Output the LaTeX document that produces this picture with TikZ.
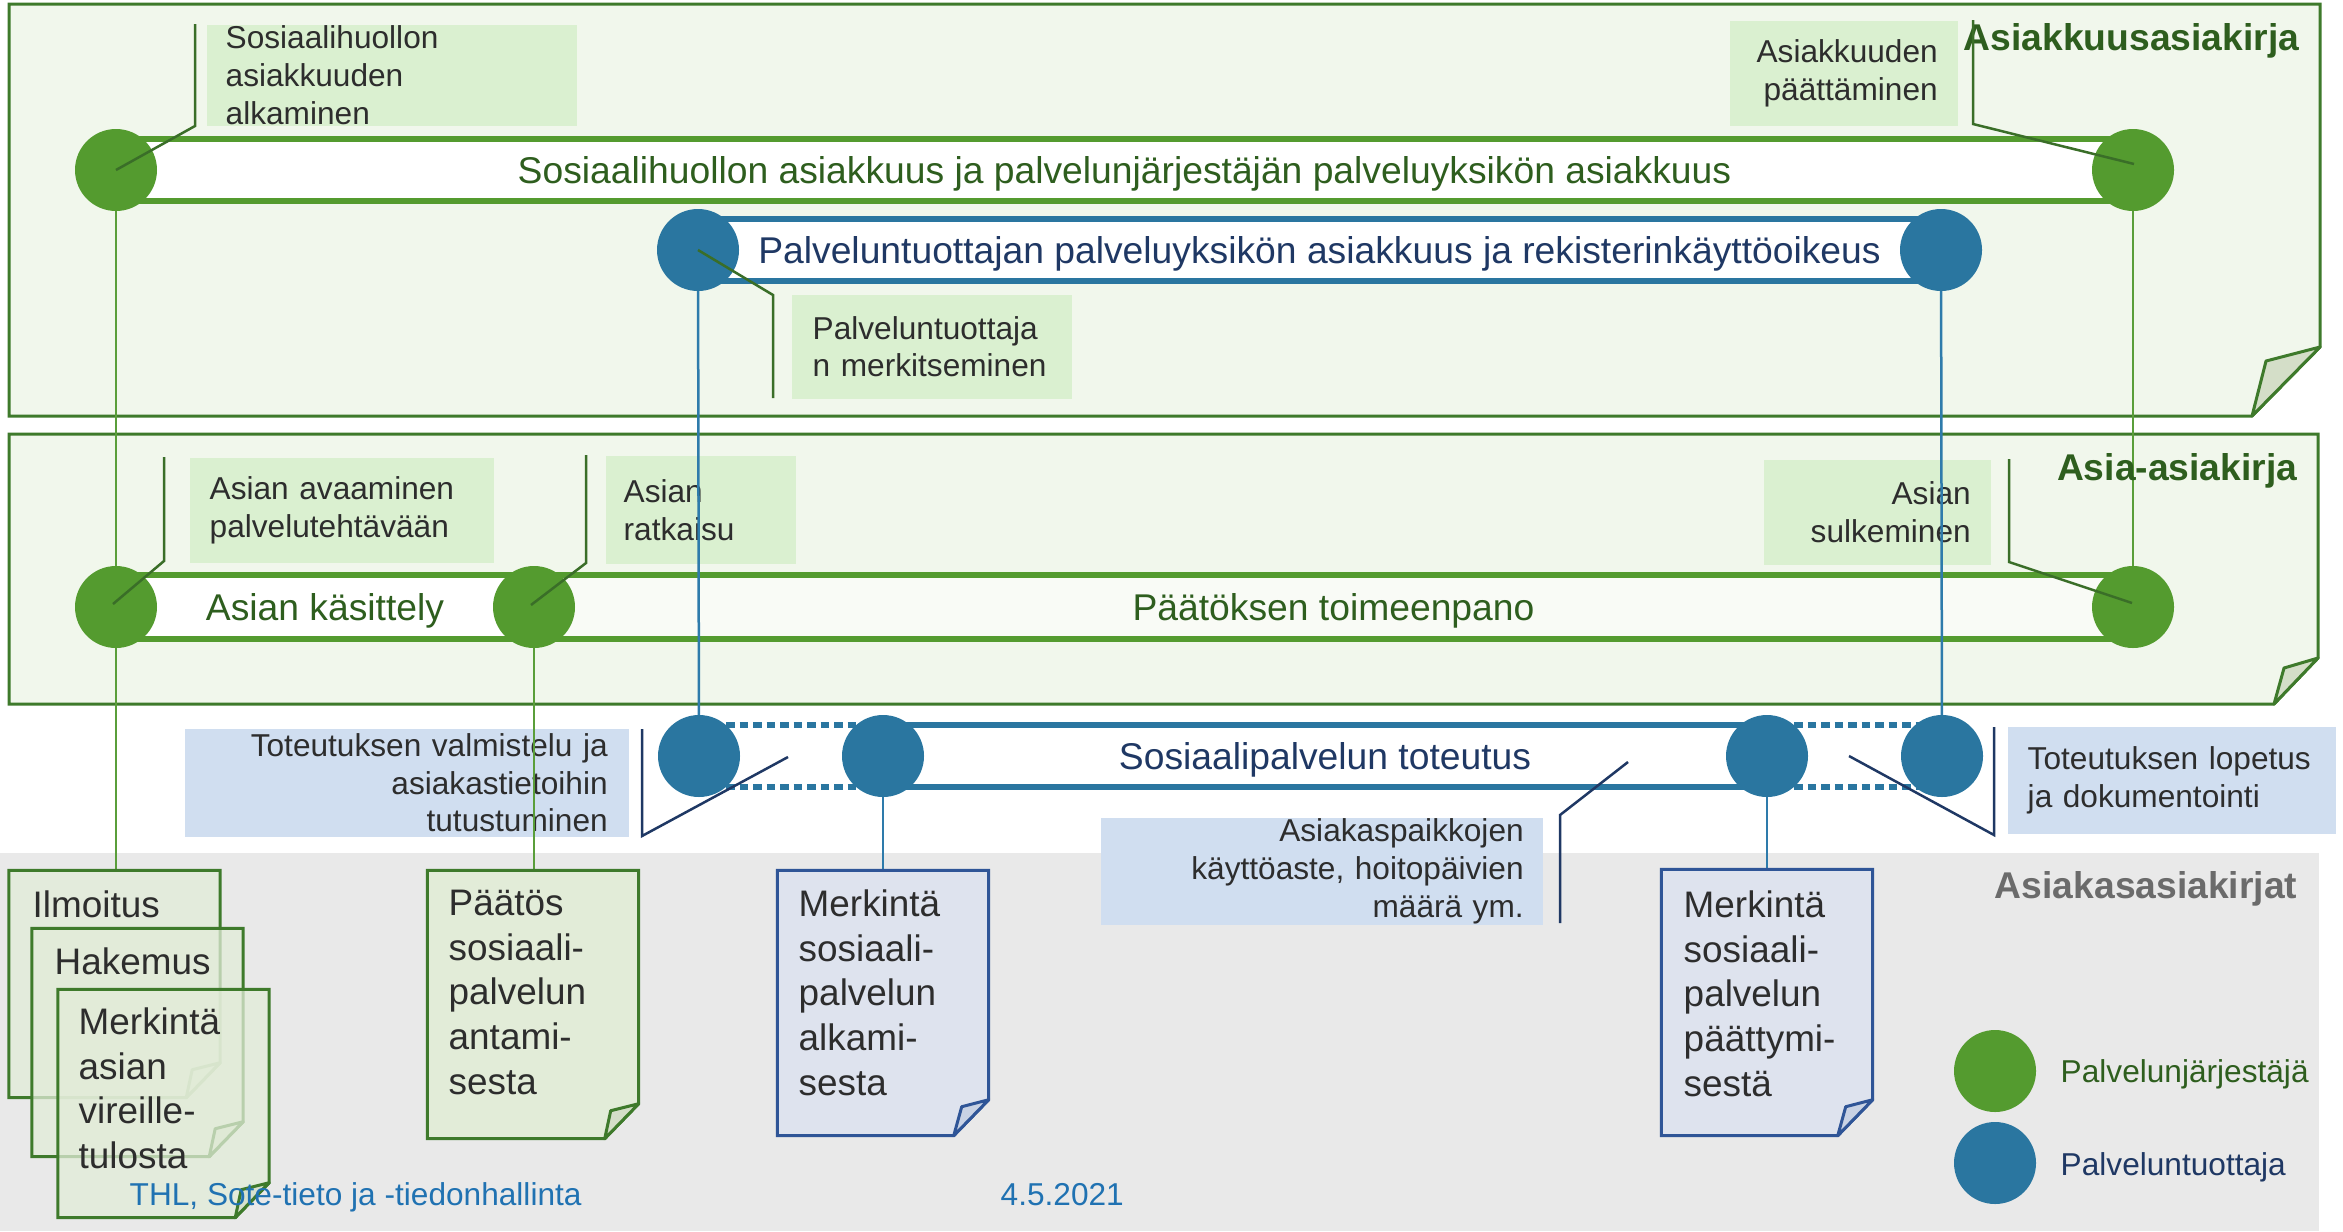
\documentclass[tikz,border=0pt]{standalone}
\usepackage{fontspec}
\setmainfont{Liberation Sans}
\usetikzlibrary{calc}
\pgfdeclarelayer{back}
\pgfdeclarelayer{bars}
\pgfdeclarelayer{vlines}
\pgfdeclarelayer{front}
\pgfsetlayers{back,bars,vlines,main,front}
\definecolor{gcirc}{RGB}{84,155,47}
\definecolor{bcirc}{RGB}{42,118,160}
\definecolor{frameg}{RGB}{62,122,43}
\definecolor{framefill}{RGB}{241,247,236}
\definecolor{flapfill}{RGB}{212,222,200}
\definecolor{colcalg}{RGB}{218,240,208}
\definecolor{colcalb}{RGB}{208,222,240}
\definecolor{dgtext}{RGB}{46,94,30}
\definecolor{navy}{RGB}{31,56,100}
\definecolor{ctext}{RGB}{45,45,45}
\definecolor{grayband}{RGB}{233,233,233}
\definecolor{coldocg}{RGB}{226,236,216}
\definecolor{coldocb}{RGB}{222,227,238}
\definecolor{docbline}{RGB}{47,85,151}
\definecolor{docbflap}{RGB}{200,210,228}
\definecolor{pointg}{RGB}{58,110,40}
\definecolor{vlineg}{RGB}{90,158,58}
\definecolor{vlineb}{RGB}{46,123,171}
\definecolor{foot}{RGB}{32,114,178}
\definecolor{titlegray}{RGB}{107,107,107}
\definecolor{offwhite}{RGB}{249,251,246}
\begin{document}
\begin{tikzpicture}[x=0.1mm,y=-0.1mm,
  gdot/.style={circle,fill=gcirc,minimum size=8.2mm,inner sep=0pt},
  bdot/.style={circle,fill=bcirc,minimum size=8.2mm,inner sep=0pt},
  frame/.style={draw=frameg,line width=0.3mm,fill=framefill},
  flap/.style={draw=frameg,line width=0.3mm,fill=flapfill,line join=round},
  barg/.style={draw=gcirc,line width=0.6mm,fill=white},
  barb/.style={draw=bcirc,line width=0.6mm,fill=white},
  dotb/.style={draw=bcirc,line width=0.6mm,dash pattern=on 0.85mm off 0.5mm},
  bartxtg/.style={font=\fontsize{10.6pt}{12.6pt}\selectfont,text=dgtext,inner sep=0pt,anchor=base},
  bartxtb/.style={font=\fontsize{10.6pt}{12.6pt}\selectfont,text=navy,inner sep=0pt,anchor=base},
  calg/.style={fill=colcalg,text=ctext,font=\fontsize{9pt}{10.8pt}\selectfont,inner ysep=0pt,anchor=north west},
  calb/.style={fill=colcalb,text=ctext,font=\fontsize{9pt}{10.8pt}\selectfont,inner ysep=0pt,anchor=north west},
  ptg/.style={draw=pointg,line width=0.25mm},
  ptb/.style={draw=navy,line width=0.25mm},
  vg/.style={draw=vlineg,line width=0.25mm},
  vb/.style={draw=vlineb,line width=0.25mm},
  docgs/.style={draw=frameg,line width=0.3mm,fill=coldocg,fill opacity=0.75},
  docbs/.style={draw=docbline,line width=0.3mm,fill=coldocb},
  flapg/.style={draw=frameg,line width=0.3mm,fill=flapfill,line join=round},
  flapb/.style={draw=docbline,line width=0.3mm,fill=docbflap,line join=round},
  docbox/.style={inner sep=0pt,minimum width=21mm},
  doctxt/.style={font=\fontsize{10.5pt}{12.8pt}\selectfont,text=ctext,text width=19mm,align=left,inner sep=0pt,anchor=base west},
  titlestyle/.style={font=\fontsize{10.6pt}{12pt}\selectfont\bfseries,inner sep=0pt,anchor=base east},
  legstyle/.style={font=\fontsize{9pt}{11pt}\selectfont,inner sep=0pt,anchor=base west}]
\useasboundingbox (0,0) rectangle (2343,1231);

% ---------- background ----------
\begin{pgfonlayer}{back}
\fill[grayband] (0,853) rectangle (2319,1231);
\path[frame] (9,4) -- (2320,4) -- (2320,347) -- (2252,416) -- (9,416) -- cycle;
\path[flap] (2320,347) -- (2266,361) -- (2252,416) -- cycle;
\path[frame] (9,434) -- (2318,434) -- (2318,658) -- (2274,704) -- (9,704) -- cycle;
\path[flap] (2318,658) -- (2284,668) -- (2274,704) -- cycle;
% callouts
\node[calg,text width=33.2mm,inner xsep=1.9mm,minimum height=10.1mm,align=left] (c1) at (206,24) {Sosiaalihuollon\\asiakkuuden\\alkaminen};
\node[calg,text width=18.8mm,inner xsep=2mm,minimum height=10.5mm,align=right] (c2) at (1729,20) {Asiakkuuden\\päättäminen};
\node[calg,text width=23.8mm,inner xsep=2.1mm,minimum height=10.4mm,align=left] (c3) at (791,294) {Palveluntuottaja\\n~merkitseminen};
\node[calg,text width=26.4mm,inner xsep=2mm,minimum height=10.5mm,align=left] (c4) at (189,457) {Asian~avaaminen\\palvelutehtävään};
\node[calg,text width=15.4mm,inner xsep=1.8mm,minimum height=10.8mm,align=left] (c5) at (605,455) {Asian\\ratkaisu};
\node[calg,text width=18.7mm,inner xsep=2mm,minimum height=10.5mm,align=right] (c6) at (1763,459) {Asian\\sulkeminen};
\node[calb,text width=40.2mm,inner xsep=2.1mm,minimum height=10.8mm,align=right] (c7) at (184,728) {Toteutuksen~valmistelu~ja\\asiakastietoihin\\tutustuminen};
\node[calb,text width=40.4mm,inner xsep=1.9mm,minimum height=10.7mm,align=right] (c8) at (1100,817) {Asiakaspaikkojen\\käyttöaste,~hoitopäivien\\määrä~ym.};
\node[calb,text width=28.8mm,inner xsep=2mm,minimum height=10.7mm,align=left] (c9) at (2007,726) {Toteutuksen~lopetus\\ja~dokumentointi};
\end{pgfonlayer}

% ---------- circles ----------
\node[gdot] (gA1) at (116,170) {};
\node[gdot] (gA2) at (2133,170) {};
\node[bdot] (bB1) at (698,250) {};
\node[bdot] (bB2) at (1941,250) {};
\node[gdot] (gC1) at (116,607) {};
\node[gdot] (gC2) at (534,607) {};
\node[gdot] (gC3) at (2133,607) {};
\node[bdot] (bT1) at (699,756) {};
\node[bdot] (bT2) at (883,756) {};
\node[bdot] (bT3) at (1767,756) {};
\node[bdot] (bT4) at (1942,756) {};

% ---------- bars ----------
\begin{pgfonlayer}{bars}
\path[barg] ($(gA1)+(0,-31)$) rectangle ($(gA2)+(0,31)$);
\node[bartxtg] (tA) at ($(gA1)!0.5!(gA2)+(0,13)$) {Sosiaalihuollon asiakkuus ja palvelunjärjestäjän palveluyksikön asiakkuus};
\path[barb] ($(bB1)+(0,-31)$) rectangle ($(bB2)+(0,31)$);
\node[bartxtb] (tB) at ($(bB1)!0.5!(bB2)+(0,13)$) {Palveluntuottajan palveluyksikön asiakkuus ja rekisterinkäyttöoikeus};
\path[barg] ($(gC1)+(0,-32)$) rectangle ($(gC2)+(0,32)$);
\node[bartxtg] (tC1) at ($(gC1)!0.5!(gC2)+(0,13)$) {Asian käsittely};
\path[barg,fill=offwhite] ($(gC2)+(0,-32)$) rectangle ($(gC3)+(0,32)$);
\node[bartxtg] (tC2) at ($(gC2)!0.5!(gC3)+(0,13)$) {Päätöksen toimeenpano};
\path[barb] ($(bT2)+(0,-31)$) rectangle ($(bT3)+(0,31)$);
\node[bartxtb] (tT) at ($(bT2)!0.5!(bT3)+(0,13)$) {Sosiaalipalvelun toteutus};
\draw[dotb] ($(bT1)+(0,-31)$) -- ($(bT2)+(0,-31)$);
\draw[dotb] ($(bT1)+(0,31)$) -- ($(bT2)+(0,31)$);
\draw[dotb] ($(bT3)+(0,-31)$) -- ($(bT4)+(0,-31)$);
\draw[dotb] ($(bT3)+(0,31)$) -- ($(bT4)+(0,31)$);
\end{pgfonlayer}

% ---------- documents ----------
\node[docbox,minimum height=22.6mm] (d1) at (114.5,984) {};
\node[docbox,minimum height=22.7mm] (d2) at (137.5,1042.5) {};
\node[docbox,minimum height=22.7mm] (d3) at (163.5,1103.5) {};
\node[docbox,minimum height=26.7mm] (d4) at (533,1004.5) {};
\node[docbox,minimum height=26.4mm] (d5) at (883,1003) {};
\node[docbox,minimum height=26.5mm] (d6) at (1767,1002.5) {};

\foreach \d in {d1,d2,d3}{
  \path[docgs] (\d.north west) -- (\d.north east) -- ($(\d.south east)+(0,-35)$) -- ($(\d.south east)+(-34,0)$) -- (\d.south west) -- cycle;
  \path[flapg,fill opacity=0.75] ($(\d.south east)+(0,-35)$) -- ($(\d.south east)+(-28,-28)$) -- ($(\d.south east)+(-34,0)$) -- cycle;
}
\node[doctxt] (d1t) at (32,917) {Ilmoitus};
\node[doctxt] (d2t) at (54,974) {Hakemus};
\node[doctxt] (d3t) at (78,1034) {Merkintä\\asian\\vireille-\\tulosta};

\path[docgs,fill opacity=1] (d4.north west) -- (d4.north east) -- ($(d4.south east)+(0,-35)$) -- ($(d4.south east)+(-34,0)$) -- (d4.south west) -- cycle;
\path[flapg] ($(d4.south east)+(0,-35)$) -- ($(d4.south east)+(-28,-28)$) -- ($(d4.south east)+(-34,0)$) -- cycle;
\node[doctxt] (d4t) at (448,915) {Päätös\\sosiaali-\\palvelun\\antami-\\sesta};

\foreach \d in {d5,d6}{
  \path[docbs] (\d.north west) -- (\d.north east) -- ($(\d.south east)+(0,-36)$) -- ($(\d.south east)+(-35,0)$) -- (\d.south west) -- cycle;
  \path[flapb] ($(\d.south east)+(0,-36)$) -- ($(\d.south east)+(-27,-29)$) -- ($(\d.south east)+(-35,0)$) -- cycle;
}
\node[doctxt] (d5t) at (798,916) {Merkintä\\sosiaali-\\palvelun\\alkami-\\sesta};
\node[doctxt] (d6t) at (1683,917) {Merkintä\\sosiaali-\\palvelun\\päättymi-\\sestä};

% ---------- vertical connectors ----------
\begin{pgfonlayer}{vlines}
\draw[vg] (gA1.center) -- (gC1.center);
\draw[vg] (gC1.center) -- (gC1.center |- d1.north);
\draw[vg] (gA2.center) -- (gC3.center);
\draw[vg] (gC2.center) -- (gC2.center |- d4.north);
\draw[vb] (bB1.center) -- (bT1.center);
\draw[vb] (bB2.center) -- (bT4.center);
\draw[vb] (bT2.center) -- (bT2.center |- d5.north);
\draw[vb] (bT3.center) -- (bT3.center |- d6.north);
\end{pgfonlayer}

% ---------- titles, legend, footer ----------
\node[titlestyle,text=dgtext] (ti1) at (2300,50) {Asiakkuusasiakirja};
\node[titlestyle,text=dgtext] (ti2) at (2298,480) {Asia-asiakirja};
\node[titlestyle,text=titlegray] (ti3) at (2298,898) {Asiakasasiakirjat};
\node[gdot] (lg) at (1995,1071) {};
\node[bdot] (lb) at (1995,1163) {};
\node[legstyle,text=dgtext] (lgt) at (2060,1082) {Palvelunjärjestäjä};
\node[legstyle,text=navy] (lbt) at (2060,1175) {Palveluntuottaja};

% ---------- pointers ----------
\begin{pgfonlayer}{front}
\coordinate (p1a) at (195,24);   \coordinate (p1b) at (195,126);
\draw[ptg] (p1a) -- (p1b) -- (gA1.center);
\coordinate (p2a) at (1973,20);  \coordinate (p2b) at (1973,124);
\draw[ptg] (p2a) -- (p2b) -- ($(gA2.center)+(1,-6)$);
\coordinate (p3a) at (773,398);  \coordinate (p3b) at (773,295);
\draw[ptg] (p3a) -- (p3b) -- (bB1.center);
\coordinate (p4a) at (164,457);  \coordinate (p4b) at (164,561);
\draw[ptg] (p4a) -- (p4b) -- ($(gC1.center)+(-3,-3)$);
\coordinate (p5a) at (586,455);  \coordinate (p5b) at (586,563);
\draw[ptg] (p5a) -- (p5b) -- ($(gC2.center)+(-3,-2)$);
\coordinate (p6a) at (2009,459); \coordinate (p6b) at (2009,562);
\draw[ptg] (p6a) -- (p6b) -- ($(gC3.center)+(-1,-4)$);
\coordinate (p7a) at (642,729);  \coordinate (p7b) at (642,836); \coordinate (p7c) at (788,757);
\draw[ptb] (p7a) -- (p7b) -- (p7c);
\coordinate (p8a) at (1560,923); \coordinate (p8b) at (1560,815); \coordinate (p8c) at (1628,762);
\draw[ptb] (p8a) -- (p8b) -- (p8c);
\coordinate (p9a) at (1994,727); \coordinate (p9b) at (1994,835); \coordinate (p9c) at (1849,756);
\draw[ptb] (p9a) -- (p9b) -- (p9c);
\node[legstyle,text=foot] (f1) at (129,1205) {THL, Sote-tieto ja -tiedonhallinta};
\node[legstyle,text=foot] (f2) at (1000,1205) {4.5.2021};
\end{pgfonlayer}
\end{tikzpicture}
\end{document}
